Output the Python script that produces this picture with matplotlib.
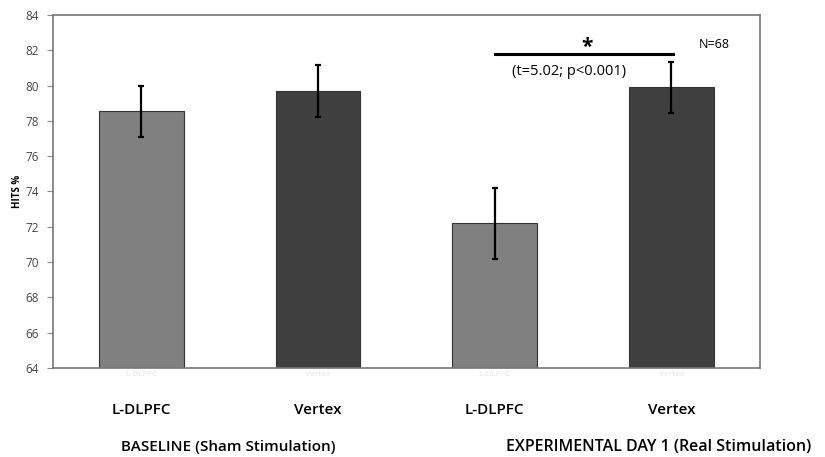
import matplotlib.pyplot as plt
import numpy as np

plt.rcParams['font.family'] = ['Open Sans', 'DejaVu Sans']

conditions = ['L-DLPFC', 'Vertex', 'L-DLPFC', 'Vertex']
hits = [78.55, 79.7, 72.2, 79.9]
errors = [1.45, 1.45, 2.0, 1.45]
colors = ['#808080', '#404040', '#808080', '#404040']
groups = ['BASELINE (Sham Stimulation)', 'EXPERIMENTAL DAY 1 (Real Stimulation)']
yticks = list(range(64, 85, 2))

fig = plt.figure(figsize=(8.25, 4.57), dpi=100)
ax = fig.add_axes([0.064, 0.195, 0.857, 0.772])

x = np.arange(1, len(hits) + 1)
ax.bar(x, hits, width=0.48, color=colors, edgecolor='#333333', linewidth=0.8,
       zorder=2)
ax.errorbar(x, hits, yerr=errors, fmt='none', ecolor='black', elinewidth=1.6,
            capsize=2.5, capthick=1.6, zorder=3)

ax.set_xlim(0.5, 4.5)
ax.set_ylim(64, 84)
ax.set_yticks(yticks)
ax.tick_params(axis='y', direction='out', length=4, color='#888888',
               labelsize=8.5, labelcolor='#444444', pad=6)
ax.set_xticks(x)
ax.set_xticklabels(conditions, fontsize=6, color='#e4e4e4')
ax.tick_params(axis='x', length=0, pad=2)
for s in ax.spines.values():
    s.set_color('#777777')
    s.set_linewidth(1.2)
ax.set_ylabel('HITS %', fontsize=7, fontweight='bold', labelpad=2)

# category labels and group captions below the axis
xt = ax.get_xaxis_transform()
for xi, name in zip(x, conditions):
    ax.text(xi, -0.12, name, transform=xt, ha='center', va='center',
            fontsize=11, fontweight='semibold')
ax.text(1.49, -0.225, groups[0], transform=xt, ha='center', va='center',
        fontsize=11, fontweight='semibold')
ax.text(3.93, -0.225, groups[1], transform=xt, ha='center', va='center',
        fontsize=11.5, fontweight='semibold', clip_on=False)

# significance bracket over the experimental day
ax.plot([3.0, 4.01], [81.8, 81.8], color='black', linewidth=2.2, zorder=4)
ax.text(3.52, 81.55, '*', ha='center', va='bottom', fontsize=15, fontweight='bold')
ax.text(3.42, 80.8, '(t=5.02; p<0.001)', ha='center', va='center', fontsize=10.5,
        fontweight='medium')
ax.text(4.24, 82.35, 'N=68', ha='center', va='center', fontsize=9)

fig.savefig('out.png', dpi=100)
